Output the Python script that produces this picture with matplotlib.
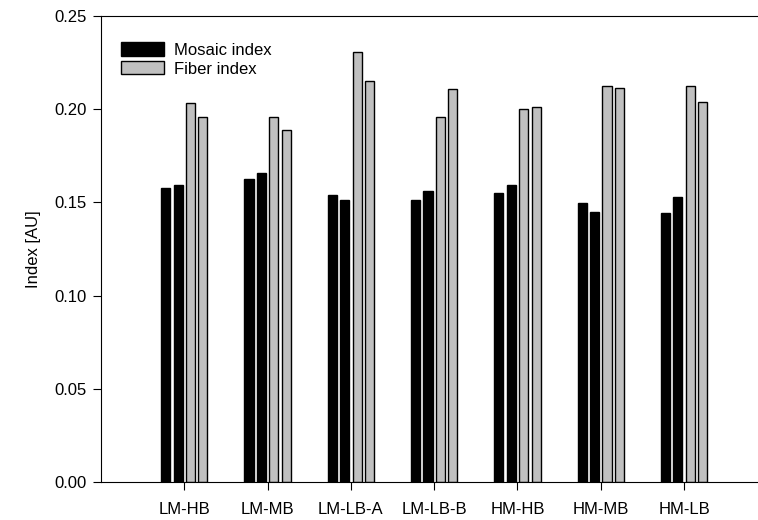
import matplotlib
matplotlib.use("Agg")
import matplotlib.pyplot as plt
import numpy as np
from matplotlib.ticker import FormatStrFormatter

plt.rcParams['font.family'] = ['Liberation Sans', 'DejaVu Sans']

categories = ["LM-HB", "LM-MB", "LM-LB-A", "LM-LB-B", "HM-HB", "HM-MB", "HM-LB"]
mosaic_a = [0.1575, 0.1627, 0.1538, 0.1511, 0.1551, 0.1494, 0.1441]
mosaic_b = [0.1593, 0.1655, 0.1512, 0.1563, 0.1593, 0.1448, 0.1530]
fiber_a = [0.2034, 0.1955, 0.2305, 0.1958, 0.1998, 0.2125, 0.2122]
fiber_b = [0.1955, 0.1888, 0.2148, 0.2105, 0.2009, 0.2113, 0.2035]

fig = plt.figure(figsize=(7.58, 5.20), dpi=100)
ax = fig.add_axes([101 / 758, 37.8 / 520, 666.4 / 758, 466.5 / 520])

x = np.arange(1, len(categories) + 1)
step = 0.149
width = 0.11

series = [
    (mosaic_a, "black", "Mosaic index"),
    (mosaic_b, "black", None),
    (fiber_a, "#c0c0c0", "Fiber index"),
    (fiber_b, "#c0c0c0", None),
]
for i, (vals, color, label) in enumerate(series):
    ax.bar(x + (i - 1.5) * step, vals, width=width, color=color,
           edgecolor="black", linewidth=1.0, label=label, zorder=2)

ax.set_xlim(0, 8)
ax.set_ylim(0, 0.25)
ax.set_yticks(np.arange(0, 0.2501, 0.05))
ax.yaxis.set_major_formatter(FormatStrFormatter('%.2f'))
ax.set_xticks(x)
ax.set_xticklabels(categories)
ax.tick_params(axis='both', direction='out', length=6, width=0.8,
               labelsize=12, colors='black', pad=4)
ax.tick_params(axis='x', pad=8)
ax.spines['right'].set_visible(False)
for s in ['left', 'bottom', 'top']:
    ax.spines[s].set_linewidth(0.8)

ax.set_ylabel("Index [AU]", fontsize=12, labelpad=10)

ax.legend(loc='upper left', frameon=False, fontsize=12,
          handlelength=2.6, handleheight=0.85, handletextpad=0.6,
          labelspacing=0.2, borderaxespad=0.0,
          bbox_to_anchor=(13 / 666.4, 1 - 20 / 466.5))

fig.savefig("out.png", dpi=100)
